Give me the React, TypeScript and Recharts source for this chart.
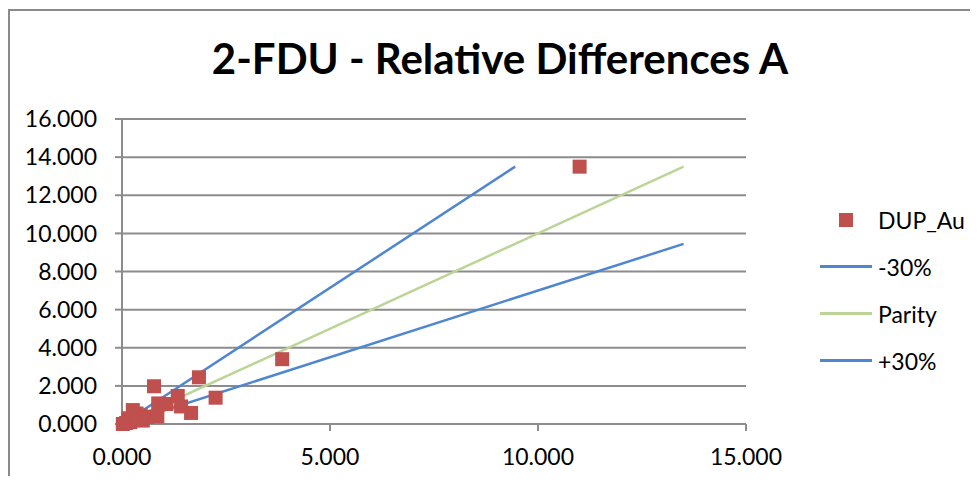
import React from "react";
import {
  ScatterChart,
  Scatter,
  XAxis,
  YAxis,
  CartesianGrid,
  Legend,
} from "recharts";

// DUP_Au pairs: original vs duplicate
const dupX = [11.0, 3.85, 2.25, 1.85, 0.77, 1.34, 1.42, 1.66, 0.87, 1.07, 0.26, 0.6, 0.5, 0.85, 0.45, 0.35, 0.15, 0.3, 0.2, 0.1, 0.02];
const dupY = [13.5, 3.4, 1.38, 2.45, 1.98, 1.47, 0.92, 0.58, 1.08, 1.05, 0.73, 0.38, 0.18, 0.4, 0.45, 0.55, 0.3, 0.2, 0.1, 0.05, 0.0];

// reference lines (end points)
const minus30X = [0, 9.45];
const minus30Y = [0, 13.5];
const parityX = [0, 13.5];
const parityY = [0, 13.5];
const plus30X = [0, 13.5];
const plus30Y = [0, 9.45];

const xTicks = [0, 5, 10, 15];
const yTicks = [0, 2, 4, 6, 8, 10, 12, 14, 16];

const RED = "#C0504D";
const BLUE = "#4F86D0";
const GREEN = "#BCD597";
const GRID = "#8C8C8C";
const FONT = "Lato, 'Open Sans', sans-serif";

const zip = (xs: number[], ys: number[]) => xs.map((x, i) => ({ x, y: ys[i] }));

const dupData = zip(dupX, dupY);
const minus30Data = zip(minus30X, minus30Y);
const parityData = zip(parityX, parityY);
const plus30Data = zip(plus30X, plus30Y);

const legendItems = [
  { name: "DUP_Au", type: "square", color: RED },
  { name: "-30%", type: "line", color: BLUE },
  { name: "Parity", type: "line", color: GREEN },
  { name: "+30%", type: "line", color: BLUE },
];

function SquareMark(props: any) {
  const { cx, cy } = props;
  if (cx == null || cy == null) return null;
  return <rect x={cx - 7} y={cy - 7} width={14} height={14} fill={RED} />;
}

function LegendBox() {
  return (
    <div style={{ fontFamily: FONT, fontSize: 23, color: "#000" }}>
      {legendItems.map((it) => (
        <div
          key={it.name}
          style={{ display: "flex", alignItems: "center", height: 47 }}
        >
          <div
            style={{
              width: 52,
              display: "flex",
              justifyContent: "center",
              marginRight: 6,
            }}
          >
            {it.type === "square" ? (
              <div style={{ width: 14, height: 14, background: it.color }} />
            ) : (
              <div style={{ width: 52, height: 2.5, background: it.color }} />
            )}
          </div>
          <span>{it.name}</span>
        </div>
      ))}
    </div>
  );
}

const fmt = (v: number) => v.toFixed(3);

export default function App() {
  return (
    <div
      style={{
        position: "relative",
        width: 978,
        height: 484,
        margin: -8,
        overflow: "hidden",
        background: "#fff",
      }}
    >
      <div
        style={{
          position: "absolute",
          left: 8,
          top: 9,
          width: 1100,
          height: 600,
          border: "2px solid #8A8A8A",
          boxSizing: "border-box",
        }}
      />
      <div
        style={{
          position: "absolute",
          left: 0,
          top: 33,
          width: 1000,
          textAlign: "center",
          fontFamily: FONT,
          fontWeight: 700,
          fontSize: 42,
          lineHeight: "50px",
          color: "#000",
        }}
      >
        2-FDU - Relative Differences A
      </div>
      <div style={{ position: "absolute", left: 0, top: 0 }}>
        <ScatterChart
          width={978}
          height={484}
          margin={{ top: 119, right: 62, bottom: 0, left: 0 }}
        >
          <CartesianGrid vertical={false} stroke={GRID} strokeWidth={2} />
          <XAxis
            type="number"
            dataKey="x"
            domain={[0, 15]}
            ticks={xTicks}
            tickFormatter={fmt}
            height={60}
            tickSize={7}
            tickMargin={18}
            stroke={GRID}
            strokeWidth={2}
            tick={{ fill: "#000", fontSize: 23, fontFamily: FONT }}
          />
          <YAxis
            type="number"
            dataKey="y"
            domain={[0, 16]}
            ticks={yTicks}
            tickFormatter={fmt}
            width={122}
            tickSize={7}
            tickMargin={18}
            stroke={GRID}
            strokeWidth={2}
            tick={{ fill: "#000", fontSize: 23, fontFamily: FONT }}
          />
          <Legend
            layout="vertical"
            align="right"
            verticalAlign="middle"
            content={() => <LegendBox />}
            wrapperStyle={{ left: 820, top: 196, width: 170 }}
          />
          <Scatter
            name="-30%"
            data={minus30Data}
            line={{ stroke: BLUE, strokeWidth: 2.5 }}
            shape={() => null}
            isAnimationActive={false}
          />
          <Scatter
            name="Parity"
            data={parityData}
            line={{ stroke: GREEN, strokeWidth: 2.5 }}
            shape={() => null}
            isAnimationActive={false}
          />
          <Scatter
            name="+30%"
            data={plus30Data}
            line={{ stroke: BLUE, strokeWidth: 2.5 }}
            shape={() => null}
            isAnimationActive={false}
          />
          <Scatter
            name="DUP_Au"
            data={dupData}
            fill={RED}
            shape={<SquareMark />}
            isAnimationActive={false}
          />
        </ScatterChart>
      </div>
    </div>
  );
}
